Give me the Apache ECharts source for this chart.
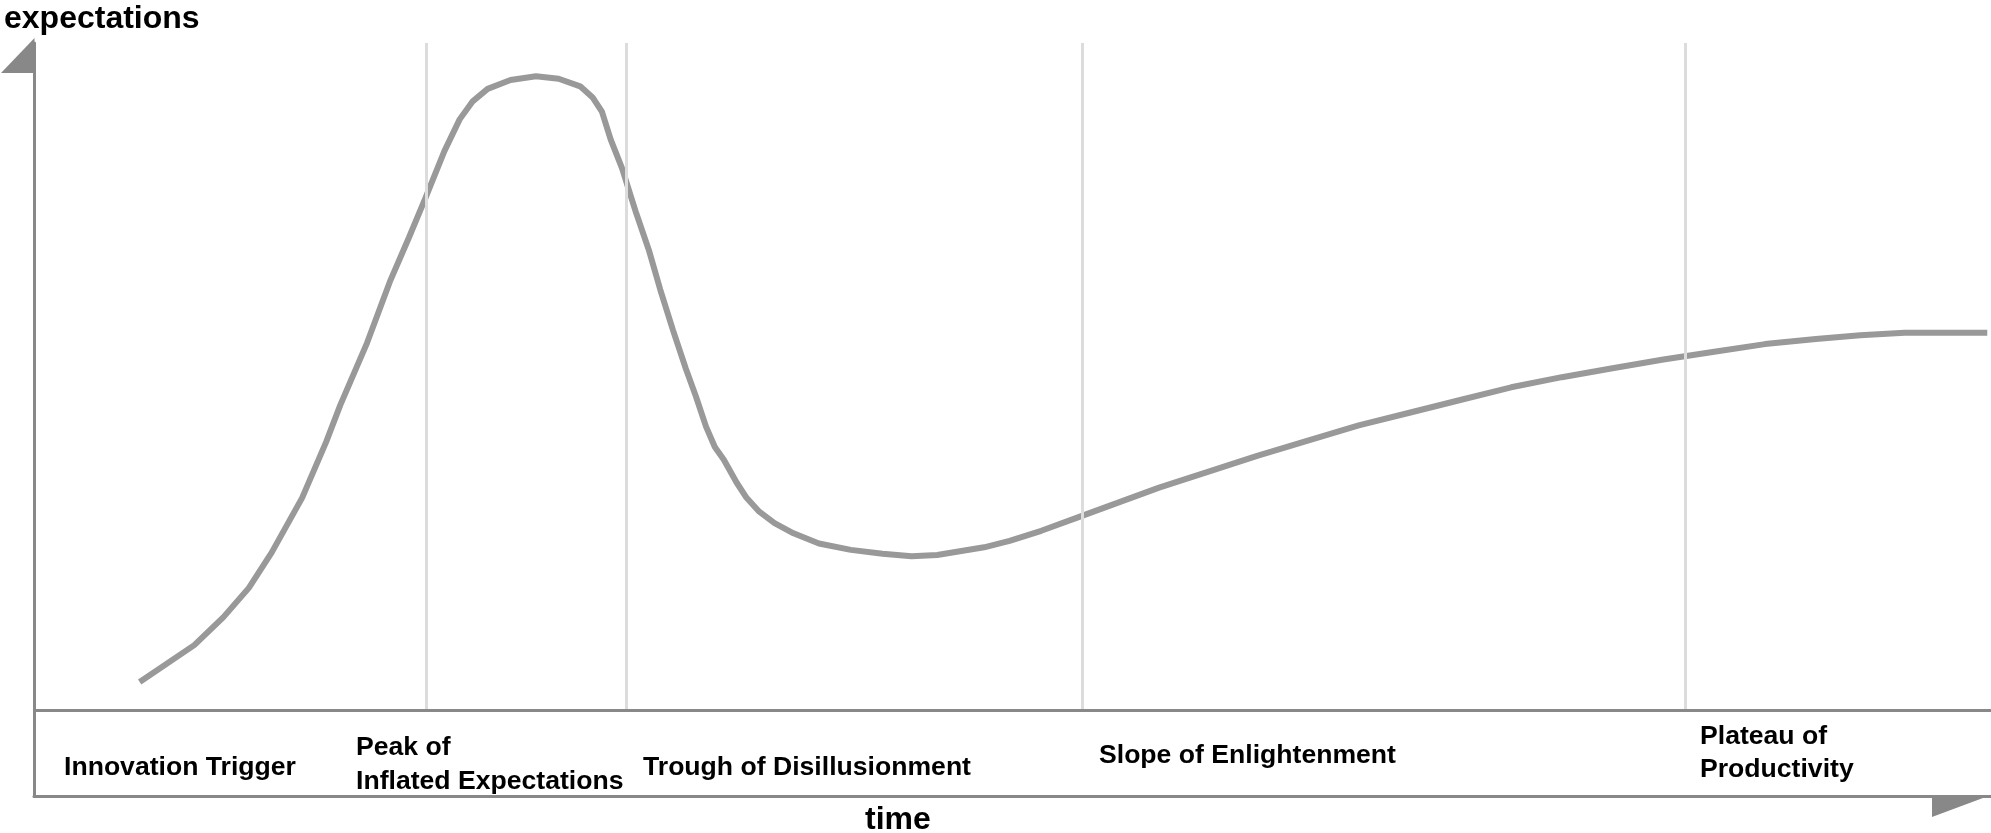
<!DOCTYPE html>
<html>
<head>
<meta charset="utf-8">
<script src="https://cdn.jsdelivr.net/npm/echarts@6/dist/echarts.min.js"></script>
<style>
  html, body { margin: 0; padding: 0; background: #fff; }
  #chart { width: 1991px; height: 833px; }
</style>
</head>
<body>
<div id="chart"></div>
<script>
// ---- data (time 0..100, expectations 0..100) ----
const timeValues = [5.4, 8.19, 9.68, 10.98, 12.15, 13.7, 14.93, 15.65, 17.02, 18.18, 19.16, 20.0, 20.97, 21.75, 22.4, 23.18, 24.35, 25.65, 26.81, 27.91, 28.56, 29.02, 29.47, 30.05, 30.77, 31.42, 32.0, 32.65, 33.3, 33.82, 34.34, 34.79, 35.25, 35.9, 36.41, 37.06, 37.84, 38.81, 40.11, 41.74, 43.36, 44.85, 46.15, 48.55, 49.85, 51.47, 53.41, 55.36, 57.49, 59.9, 62.5, 65.09, 67.69, 70.28, 72.88, 75.48, 78.07, 80.66, 83.26, 85.86, 88.45, 91.05, 93.32, 95.59, 99.81];
const expectationValues = [4.21, 9.73, 13.93, 18.31, 23.63, 31.81, 40.2, 45.71, 55.05, 64.18, 70.84, 76.75, 83.79, 88.55, 91.21, 93.12, 94.45, 95.02, 94.64, 93.5, 91.79, 89.7, 85.5, 81.2, 74.5, 68.94, 63.04, 56.96, 51.24, 47.05, 42.48, 39.43, 37.53, 34.11, 31.81, 29.73, 28.01, 26.49, 24.96, 24.01, 23.44, 23.06, 23.25, 24.39, 25.35, 26.87, 28.96, 31.05, 33.34, 35.62, 38.1, 40.39, 42.67, 44.57, 46.48, 48.38, 49.9, 51.24, 52.56, 53.72, 54.86, 55.62, 56.19, 56.57, 56.57];
const phaseBoundaries = [20.03, 30.25, 53.55, 84.36];
const phaseNames = ['Innovation Trigger', 'Peak of\nInflated Expectations', 'Trough of Disillusionment', 'Slope of Enlightenment', 'Plateau of\nProductivity'];
const yAxisTitle = 'expectations';
const xAxisTitle = 'time';

const FONT = '"Liberation Sans", Arial, Helvetica, sans-serif';
const AXIS_COLOR = '#888888';

const curveData = timeValues.map((t, i) => [t, expectationValues[i]]);

// label layout (pixel positions of the phase labels)
const phaseLayout = [
  { x: 64, y: 768, lh: 34 },
  { x: 356, y: 765, lh: 34 },
  { x: 643, y: 768, lh: 34 },
  { x: 1099, y: 756, lh: 34 },
  { x: 1700, y: 753, lh: 33 }
];

const graphics = phaseNames.map((name, i) => ({
  type: 'text',
  x: phaseLayout[i].x,
  y: phaseLayout[i].y,
  z: 100,
  style: {
    text: name,
    fill: '#000',
    fontFamily: FONT,
    fontSize: 26.6,
    fontWeight: 'bold',
    lineHeight: phaseLayout[i].lh,
    align: 'left',
    verticalAlign: 'middle'
  }
}));

graphics.push({
  type: 'text', x: 4, y: 19, z: 100,
  style: { text: yAxisTitle, fill: '#000', fontFamily: FONT, fontSize: 32, fontWeight: 'bold', align: 'left', verticalAlign: 'middle' }
});
graphics.push({
  type: 'text', x: 865, y: 820, z: 100,
  style: { text: xAxisTitle, fill: '#000', fontFamily: FONT, fontSize: 32, fontWeight: 'bold', align: 'left', verticalAlign: 'middle' }
});
// arrow heads
graphics.push({
  type: 'polygon', z: 100,
  shape: { points: [[34.5, 38], [34.5, 73], [1, 73]] },
  style: { fill: AXIS_COLOR }
});
graphics.push({
  type: 'polygon', z: 100,
  shape: { points: [[1932, 795], [1991, 795], [1932, 817]] },
  style: { fill: AXIS_COLOR }
});

const chart = echarts.init(document.getElementById('chart'), null, { renderer: 'canvas' });
chart.setOption({
  animation: false,
  backgroundColor: '#ffffff',
  grid: { left: 34, right: 0, top: 43, bottom: 37, containLabel: false },
  xAxis: {
    type: 'value', min: 0, max: 100,
    axisLine: { show: true, onZero: false, lineStyle: { color: AXIS_COLOR, width: 3 } },
    axisTick: { show: false }, axisLabel: { show: false }, splitLine: { show: false }
  },
  yAxis: {
    type: 'value', min: -12.89, max: 100,
    axisLine: { show: true, onZero: false, lineStyle: { color: AXIS_COLOR, width: 3 } },
    axisTick: { show: false }, axisLabel: { show: false }, splitLine: { show: false }
  },
  graphic: graphics,
  series: [
    {
      type: 'line',
      data: [],
      z: 1,
      silent: true,
      markLine: {
        silent: true,
        symbol: 'none',
        label: { show: false },
        animation: false,
        data: phaseBoundaries.map(b => [
          { coord: [b, 0], lineStyle: { color: '#dcdcdc', width: 3, type: 'solid' } },
          { coord: [b, 100] }
        ]).concat([
          [{ coord: [0, 0], lineStyle: { color: AXIS_COLOR, width: 3, type: 'solid' } }, { coord: [100, 0] }]
        ])
      }
    },
    {
      type: 'line',
      data: curveData,
      z: 3,
      smooth: false,
      showSymbol: false,
      symbol: 'none',
      lineStyle: { color: '#999999', width: 6 }
    }
  ]
});
</script>
</body>
</html>
